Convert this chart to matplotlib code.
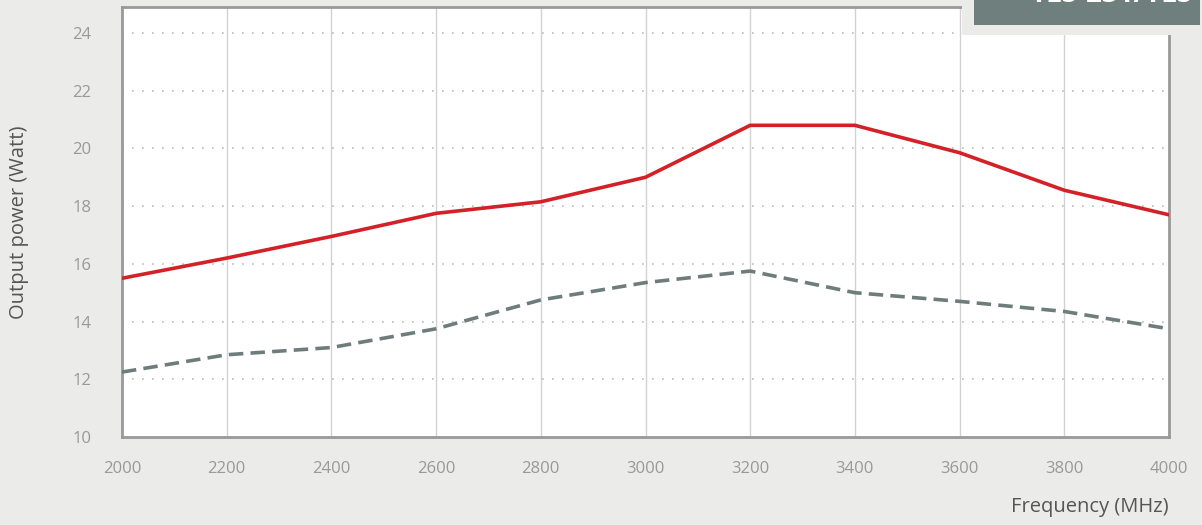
import matplotlib.pyplot as plt
from matplotlib.patches import Rectangle

freq = [2000, 2200, 2400, 2600, 2800, 3000, 3200, 3400, 3600, 3800, 4000]
power_red = [15.5, 16.2, 16.95, 17.75, 18.15, 19.0, 20.8, 20.8, 19.85, 18.55, 17.7]
power_grey = [12.25, 12.85, 13.1, 13.75, 14.75, 15.35, 15.75, 15.0, 14.7, 14.35, 13.75]
x_ticks = [2000, 2200, 2400, 2600, 2800, 3000, 3200, 3400, 3600, 3800, 4000]
y_ticks = [10, 12, 14, 16, 18, 20, 22, 24]

bg = '#ebebea'
plt.rcParams['font.family'] = ['Open Sans', 'DejaVu Sans']

fig = plt.figure(figsize=(12.02, 5.25), dpi=100, facecolor=bg)
ax = fig.add_axes([122/1202, 88/525, 1047/1202, 430/525])
ax.set_facecolor('white')

ax.plot(freq, power_red, color='#d42027', lw=2.6, zorder=3)
ax.plot(freq, power_grey, color='#6e7d7b', lw=2.6, dashes=(4, 2), zorder=3)

ax.set_xlim(2000, 4000)
ax.set_ylim(10, 24.9)
ax.set_xticks(x_ticks)
ax.set_yticks(y_ticks)
ax.tick_params(length=0, colors='#999999', labelsize=12)
ax.tick_params(axis='x', pad=17)
ax.tick_params(axis='y', pad=22)

for v in x_ticks[1:-1]:
    ax.axvline(v, color='#d2d2d2', lw=1.0, zorder=1)
for v in y_ticks[1:]:
    ax.axhline(v, color='#bbbbbb', lw=1.2, ls=(0, (1, 5)), zorder=1)

for s in ax.spines.values():
    s.set_color('#999999')
    s.set_linewidth(2)

ax.set_xlabel('Frequency (MHz)', color='#555555', fontsize=14.5)
ax.xaxis.set_label_coords(1.0, -0.14)
ax.xaxis.label.set_horizontalalignment('right')
ax.set_ylabel('Output power (Watt)', color='#555555', fontsize=14.5)
ax.yaxis.set_label_coords(-0.089, 0.5)

# label box in the top right corner (its text is cut by the top edge)
fig.patches.append(Rectangle((962/1202, 490/525), 240/1202, 35/525,
                             transform=fig.transFigure, facecolor=bg,
                             edgecolor='none', zorder=5))
fig.patches.append(Rectangle((974/1202, 500/525), 226/1202, 25/525,
                             transform=fig.transFigure, facecolor='#6f7f7d',
                             edgecolor='none', zorder=6))
fig.text(1112/1202, 530/525, 'TLS-231/TLS', color='white', fontsize=20,
         fontweight='bold', ha='center', va='center', zorder=7)

fig.savefig('out.png', dpi=100, facecolor=bg)
